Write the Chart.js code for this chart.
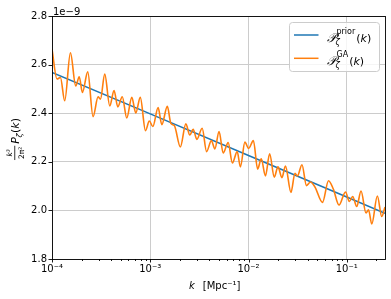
<!DOCTYPE html>
<html>
<head>
<meta charset="utf-8">
<script src="https://cdn.jsdelivr.net/npm/chart.js@4.4.0/dist/chart.umd.min.js"></script>
<style>
html,body{margin:0;padding:0;background:#fff;}
canvas{display:block;}
</style>
</head>
<body>
<canvas id="c" width="391" height="299"></canvas>
<script>
// ---- data (P values in units of 1e-9) ----
const kPrior = [1e-4, 1e-3, 1e-2, 1e-1, 0.245];
const pPrior = [2.568, 2.397, 2.226, 2.055, 1.988];

const kGA = [1.000e-4,1.124e-4,1.218e-4,1.347e-4,1.540e-4,1.744e-4,1.893e-4,2.040e-4,2.311e-4,2.617e-4,
  2.943e-4,3.113e-4,3.443e-4,3.871e-4,4.282e-4,4.671e-4,5.190e-4,5.769e-4,6.486e-4,7.125e-4,
  7.917e-4,8.946e-4,9.779e-4,1.062e-3,1.202e-3,1.311e-3,1.492e-3,1.620e-3,1.758e-3,2.024e-3,
  2.302e-3,2.529e-3,2.734e-3,2.981e-3,3.376e-3,3.742e-3,4.188e-3,4.548e-3,5.017e-3,5.523e-3,
  6.211e-3,6.855e-3,7.671e-3,8.271e-3,9.191e-3,1.002e-2,1.122e-2,1.238e-2,1.348e-2,1.487e-2,
  1.641e-2,1.828e-2,1.994e-2,2.189e-2,2.377e-2,2.704e-2,2.971e-2,3.150e-2,3.500e-2,3.890e-2,
  4.273e-2,4.750e-2,5.662e-2,6.518e-2,7.295e-2,8.337e-2,9.712e-2,0.1062,0.1150,0.1263,
  0.1397,0.1571,0.1666,0.1796,0.2048,0.2271,0.2450];
const pGA = [2.664,2.541,2.547,2.451,2.649,2.512,2.550,2.485,2.570,2.386,
  2.467,2.458,2.561,2.430,2.493,2.426,2.468,2.380,2.465,2.401,
  2.465,2.328,2.368,2.345,2.423,2.353,2.428,2.358,2.349,2.261,
  2.356,2.310,2.334,2.292,2.338,2.242,2.287,2.253,2.325,2.236,
  2.279,2.195,2.242,2.179,2.281,2.255,2.287,2.170,2.212,2.142,
  2.233,2.137,2.179,2.135,2.183,2.074,2.153,2.142,2.188,2.102,
  2.117,2.096,2.033,2.122,2.088,2.022,2.076,2.037,2.057,2.016,
  2.080,1.989,2.002,1.944,2.059,1.975,2.014];

const xMin = 1e-4, xMax = 0.245;
const yMin = 1.8, yMax = 2.8, yStep = 0.2;
const xDecades = [-4, -3, -2, -1];
const yOffsetText = '1e\u22129';
const xTitleVar = 'k', xTitleUnit = '[Mpc\u207B\u00B9]';
const legendSup = ['prior', 'GA'];

const BLUE = '#1f77b4', ORANGE = '#ff7f0e';
const FONT = '"DejaVu Sans", sans-serif';
const SUP = {'-':'\u207B','0':'\u2070','1':'\u00B9','2':'\u00B2','3':'\u00B3','4':'\u2074','5':'\u2075','6':'\u2076','7':'\u2077','8':'\u2078','9':'\u2079'};
function isDecade(v){ const l = Math.log10(v); return Math.abs(l - Math.round(l)) < 1e-6; }

const decor = {
  id: 'decor',
  afterDraw(chart){
    const {ctx, chartArea: a, scales: {x, y}} = chart;
    ctx.save();
    // frame
    ctx.strokeStyle = '#000'; ctx.lineWidth = 0.9;
    ctx.strokeRect(Math.round(a.left)+0.5, Math.round(a.top)+0.5, Math.round(a.right-a.left), Math.round(a.bottom-a.top));
    // x ticks (major + minor)
    ctx.beginPath();
    for (const e of xDecades.concat([0])) {
      for (let m = 1; m <= 9; m++) {
        const v = m * Math.pow(10, e);
        if (v < xMin*0.999 || v > xMax*1.001) continue;
        const px = Math.round(x.getPixelForValue(v)) + 0.5;
        const len = m === 1 ? 3.5 : 2;
        ctx.moveTo(px, a.bottom); ctx.lineTo(px, a.bottom + len);
      }
    }
    // y ticks
    for (let v = yMin; v <= yMax + 1e-9; v += yStep) {
      const py = Math.round(y.getPixelForValue(v)) + 0.5;
      ctx.moveTo(a.left, py); ctx.lineTo(a.left - 3.5, py);
    }
    ctx.stroke();

    ctx.fillStyle = '#000';
    // offset text
    ctx.font = '10px ' + FONT; ctx.textAlign = 'left'; ctx.textBaseline = 'alphabetic';
    ctx.fillText(yOffsetText, a.left + 1, 15);

    // x title
    ctx.font = 'italic 10px ' + FONT;
    const kw = ctx.measureText(xTitleVar).width;
    ctx.fillText(xTitleVar, 189, 289);
    ctx.font = '10px ' + FONT;
    ctx.fillText(xTitleUnit, 189 + kw + 8, 289);

    // y title (rotated)
    ctx.save();
    ctx.translate(19, 139);
    ctx.rotate(-Math.PI/2);
    ctx.textBaseline = 'alphabetic';
    const fsSmall = '7.5px ' + FONT, fsSmallI = 'italic 7.5px ' + FONT;
    ctx.font = fsSmallI; const wNum = ctx.measureText('k\u00B3').width;
    ctx.font = fsSmall; const wDen = ctx.measureText('2\u03C0\u00B2').width;
    const wFrac = Math.max(wNum, wDen) + 2;
    ctx.font = 'italic 11px ' + FONT; const wP = ctx.measureText('P').width;
    ctx.font = 'italic 7.7px ' + FONT; const wZ = ctx.measureText('\u03B6').width;
    ctx.font = '11px ' + FONT; const wK = ctx.measureText('(').width;
    ctx.font = 'italic 11px ' + FONT; const wKk = ctx.measureText('k').width;
    ctx.font = '11px ' + FONT; const wC = ctx.measureText(')').width;
    const total = wFrac + 2 + wP + wZ + wK + wKk + wC;
    let u = -total/2;
    ctx.font = fsSmallI; ctx.fillText('k\u00B3', u + (wFrac - wNum)/2, -7);
    ctx.font = fsSmall; ctx.fillText('2\u03C0\u00B2', u + (wFrac - wDen)/2, 4.5);
    ctx.fillRect(u, -4.6, wFrac, 0.8);
    u += wFrac + 2;
    ctx.font = 'italic 11px ' + FONT; ctx.fillText('P', u, 0); u += wP;
    ctx.font = 'italic 7.7px ' + FONT; ctx.fillText('\u03B6', u - 0.5, 2.5); u += wZ;
    ctx.font = '11px ' + FONT; ctx.fillText('(', u, 0); u += wK;
    ctx.font = 'italic 11px ' + FONT; ctx.fillText('k', u, 0); u += wKk;
    ctx.font = '11px ' + FONT; ctx.fillText(')', u, 0);
    ctx.restore();

    // legend
    const lx = 289.5, ly = 22.5, lw = 90, lh = 49, r = 3;
    ctx.beginPath();
    ctx.moveTo(lx + r, ly); ctx.lineTo(lx + lw - r, ly); ctx.quadraticCurveTo(lx + lw, ly, lx + lw, ly + r);
    ctx.lineTo(lx + lw, ly + lh - r); ctx.quadraticCurveTo(lx + lw, ly + lh, lx + lw - r, ly + lh);
    ctx.lineTo(lx + r, ly + lh); ctx.quadraticCurveTo(lx, ly + lh, lx, ly + lh - r);
    ctx.lineTo(lx, ly + r); ctx.quadraticCurveTo(lx, ly, lx + r, ly);
    ctx.closePath();
    ctx.fillStyle = 'rgba(255,255,255,0.8)'; ctx.fill();
    ctx.strokeStyle = '#cccccc'; ctx.lineWidth = 1; ctx.stroke();
    const rows = [{c: BLUE, y: 35, s: legendSup[0]}, {c: ORANGE, y: 58.3, s: legendSup[1]}];
    for (const row of rows) {
      ctx.strokeStyle = row.c; ctx.lineWidth = 1.5;
      ctx.beginPath(); ctx.moveTo(294, row.y); ctx.lineTo(318.5, row.y); ctx.stroke();
      ctx.fillStyle = '#000';
      const base = row.y + 6.5;
      ctx.font = 'italic 12.5px ' + FONT;
      ctx.fillText('\uD835\uDCAB', 327, base);
      const pw = ctx.measureText('\uD835\uDCAB').width;
      const x0 = 327 + pw + 0.5;
      ctx.font = '8px ' + FONT;
      ctx.fillText(row.s, x0, base - 8);
      const sw = ctx.measureText(row.s).width;
      ctx.font = 'italic 8px ' + FONT;
      ctx.fillText('\u03B6', x0 - 1, base + 3);
      let xx = x0 + sw + 1;
      ctx.font = '11px ' + FONT; ctx.fillText('(', xx, base); xx += ctx.measureText('(').width;
      ctx.font = 'italic 11px ' + FONT; ctx.fillText('k', xx, base); xx += ctx.measureText('k').width;
      ctx.font = '11px ' + FONT; ctx.fillText(')', xx, base);
    }
    ctx.restore();
  }
};

new Chart(document.getElementById('c'), {
  type: 'line',
  data: {
    datasets: [
      { label: 'prior', data: kPrior.map((k, i) => ({x: k, y: pPrior[i]})), borderColor: BLUE,
        borderWidth: 1.5, pointRadius: 0, tension: 0, order: 2, fill: false },
      { label: 'GA', data: kGA.map((k, i) => ({x: k, y: pGA[i]})), borderColor: ORANGE,
        borderWidth: 1.6, pointRadius: 0, cubicInterpolationMode: 'monotone', order: 1, fill: false }
    ]
  },
  options: {
    responsive: false, animation: false, devicePixelRatio: 1,
    layout: {padding: {left: 0, right: 6, top: 16, bottom: 0}},
    plugins: {legend: {display: false}, tooltip: {enabled: false}},
    scales: {
      x: {
        type: 'logarithmic', min: xMin, max: xMax,
        afterFit(s){ s.height = 40; },
        border: {display: false},
        grid: {drawTicks: false, lineWidth: 1,
          color: c => (c.tick && isDecade(c.tick.value)) ? '#cccccc' : 'rgba(0,0,0,0)'},
        ticks: {autoSkip: false, maxRotation: 0, padding: 4, color: '#000',
          font: {family: FONT, size: 10},
          callback: (v) => isDecade(v) ? '10' + String(Math.round(Math.log10(v))).split('').map(ch => SUP[ch]).join('') : ''}
      },
      y: {
        min: yMin, max: yMax,
        afterFit(s){ s.width = 52; },
        border: {display: false},
        grid: {drawTicks: false, color: '#cccccc', lineWidth: 1},
        ticks: {stepSize: yStep, padding: 5, color: '#000', font: {family: FONT, size: 10},
          callback: v => v.toFixed(1)}
      }
    }
  },
  plugins: [decor]
});
</script>
</body>
</html>
